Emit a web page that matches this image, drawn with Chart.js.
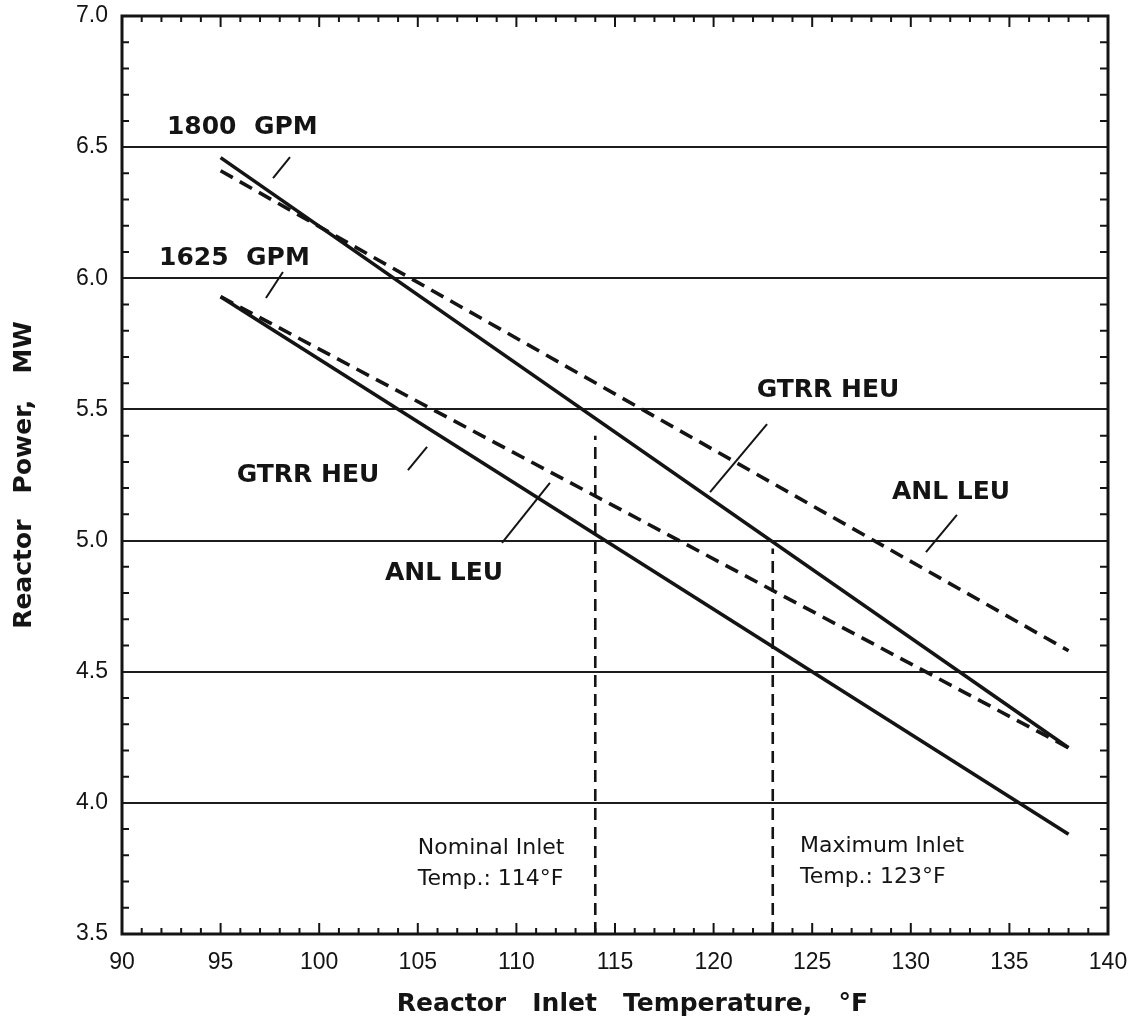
<!DOCTYPE html>
<html>
<head>
<meta charset="utf-8">
<script src="https://cdn.jsdelivr.net/npm/chart.js@4.4.0/dist/chart.umd.min.js"></script>
<style>
    html, body { margin: 0; padding: 0; background: #fff; }
    #wrap { width: 1136px; height: 1019px; }
</style>
</head>
<body>
<div id="wrap"><canvas id="myChart" width="1136" height="1019"></canvas></div>
<script>
// inlet temperature at the two ends of each curve, °F
const tempEnds = [95, 138];

// reactor power, MW
const gtrr1800 = [6.46, 4.21];
const anl1800 = [6.41, 4.58];
const gtrr1625 = [5.93, 4.21];
const anl1625 = [5.93, 3.88];

// vertical markers: nominal and maximum inlet temperature
const markerTemps = [114, 123];
const markerTops = [5.40, 4.97];

const xTickValues = [90, 95, 100, 105, 110, 115, 120, 125, 130, 135, 140];
const xTickLabels = ['90', '95', '100', '105', '110', '115', '120', '125', '130', '135', '140'];
const yTickValues = [3.5, 4.0, 4.5, 5.0, 5.5, 6.0, 6.5, 7.0];
const yTickLabels = ['3.5', '4.0', '4.5', '5.0', '5.5', '6.0', '6.5', '7.0'];

// little pointer strokes from the labels to the curves (x pair, y pair)
const leaderX = [[98.52, 97.66], [98.16, 97.30], [105.47, 104.50], [109.27, 111.70], [122.71, 119.82], [132.34, 130.77]];
const leaderY = [[6.462, 6.382], [6.024, 5.925], [5.357, 5.269], [4.991, 5.220], [5.444, 5.185], [5.098, 4.956]];

const noteText = ['1800  GPM', '1625  GPM', 'GTRR HEU', 'ANL LEU', 'GTRR HEU', 'ANL LEU',
    'Nominal Inlet', 'Temp.: 114°F', 'Maximum Inlet', 'Temp.: 123°F'];
const noteX = [96.1, 95.7, 99.43, 106.33, 125.8, 132.04, 105.0, 105.0, 124.38, 124.38];
const noteY = [6.573, 6.077, 5.25, 4.876, 5.574, 5.185, 3.828, 3.71, 3.834, 3.715];
const noteBold = [true, true, true, true, true, true, false, false, false, false];

const ink = '#141414';

function pts(xs, ys) {
    return xs.map((x, i) => ({ x: x, y: ys[i] }));
}

function curve(ys, dash) {
    return {
        data: pts(tempEnds, ys),
        borderColor: ink,
        borderWidth: 3.6,
        borderDash: dash,
        pointRadius: 0,
        fill: false
    };
}

const datasets = [
    curve(gtrr1800, []),
    curve(anl1800, [14, 8]),
    curve(gtrr1625, [14, 8]),
    curve(anl1625, [])
];

markerTemps.forEach((t, i) => {
    datasets.push({
        data: pts([t, t], [3.5, markerTops[i]]),
        borderColor: ink,
        borderWidth: 2.6,
        borderDash: [12, 7],
        pointRadius: 0
    });
});

leaderX.forEach((xs, i) => {
    datasets.push({
        data: pts(xs, leaderY[i]),
        borderColor: ink,
        borderWidth: 2,
        pointRadius: 0
    });
});

// tick labels must not push the plot area around
function noOverflow(s) {
    s.paddingLeft = 0;
    s.paddingRight = 0;
    s.paddingTop = 0;
    s.paddingBottom = 0;
}

const framePlugin = {
    id: 'frame',
    beforeDraw(chart) {
        const c = chart.ctx;
        c.save();
        c.fillStyle = '#fff';
        c.fillRect(0, 0, chart.width, chart.height);
        c.restore();
    },
    afterDraw(chart) {
        const c = chart.ctx;
        const a = chart.chartArea;
        const xs = chart.scales.x, ys = chart.scales.y;
        c.save();
        c.strokeStyle = ink;
        c.lineWidth = 2;
        c.beginPath();
        // inward ticks on all four sides
        for (let v = 91; v < 140; v++) {
            const px = xs.getPixelForValue(v);
            const len = v % 5 === 0 ? 11 : 6;
            c.moveTo(px, a.bottom); c.lineTo(px, a.bottom - len);
            c.moveTo(px, a.top); c.lineTo(px, a.top + len);
        }
        for (let k = 36; k < 70; k++) {
            if (k % 5 === 0) continue;
            const py = ys.getPixelForValue(k / 10);
            c.moveTo(a.left, py); c.lineTo(a.left + 7, py);
            c.moveTo(a.right, py); c.lineTo(a.right - 8, py);
        }
        c.stroke();
        c.lineWidth = 3;
        c.strokeRect(a.left, a.top, a.right - a.left, a.bottom - a.top);

        c.fillStyle = ink;
        c.textBaseline = 'middle';
        noteText.forEach((t, i) => {
            const px = xs.getPixelForValue(noteX[i]);
            const py = ys.getPixelForValue(noteY[i]);
            if (noteBold[i]) {
                c.font = 'bold 25px "DejaVu Sans"';
                c.textAlign = 'center';
            } else {
                c.font = '22px "DejaVu Sans"';
                c.textAlign = 'left';
            }
            c.fillText(t, px, py);
        });
        c.restore();
    }
};

const ctx = document.getElementById('myChart').getContext('2d');
new Chart(ctx, {
    type: 'line',
    data: { datasets: datasets },
    options: {
        responsive: false,
        animation: false,
        plugins: {
            legend: { display: false },
            tooltip: { enabled: false }
        },
        layout: {
            padding: { left: 0, right: 28, top: 16, bottom: 0 }
        },
        scales: {
            x: {
                type: 'linear',
                min: 90,
                max: 140,
                afterBuildTicks: (s) => { s.ticks = xTickValues.map(v => ({ value: v })); },
                afterFit: (s) => { s.height = 85; noOverflow(s); },
                ticks: {
                    callback: (v, i) => xTickLabels[i],
                    color: ink,
                    padding: 15,
                    maxRotation: 0,
                    font: { family: '"Liberation Sans", Arial', size: 23 }
                },
                grid: { display: false, drawTicks: false },
                border: { display: false },
                title: {
                    display: true,
                    text: '    Reactor   Inlet   Temperature,   °F',
                    color: ink,
                    padding: { top: 0, bottom: 0 },
                    font: { family: '"DejaVu Sans"', size: 25, weight: 'bold' }
                }
            },
            y: {
                type: 'linear',
                min: 3.5,
                max: 7.0,
                afterBuildTicks: (s) => { s.ticks = yTickValues.map(v => ({ value: v })); },
                afterFit: (s) => { s.width = 122; noOverflow(s); },
                ticks: {
                    callback: (v, i) => yTickLabels[i],
                    color: ink,
                    padding: 14,
                    font: { family: '"Liberation Sans", Arial', size: 23 }
                },
                grid: {
                    drawTicks: false,
                    lineWidth: 2,
                    color: (c) => (c.tick && (c.tick.value === 3.5 || c.tick.value === 7.0)) ? 'rgba(0,0,0,0)' : '#1c1c1c'
                },
                border: { display: false },
                title: {
                    display: true,
                    text: 'Reactor   Power,   MW',
                    color: ink,
                    padding: { top: 9, bottom: 0 },
                    font: { family: '"DejaVu Sans"', size: 25, weight: 'bold' }
                }
            }
        }
    },
    plugins: [framePlugin]
});
</script>
</body>
</html>
